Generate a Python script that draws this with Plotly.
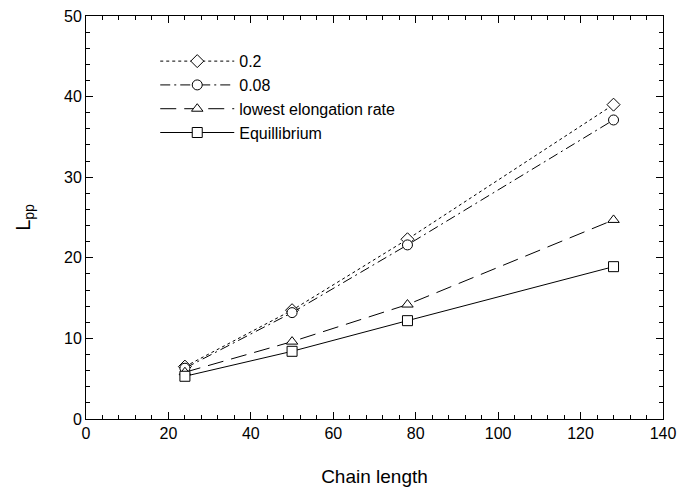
import plotly.graph_objects as go

chain_length = [24, 50, 78, 128]
rate_02 = [6.5, 13.5, 22.3, 39.0]
rate_008 = [6.3, 13.2, 21.6, 37.1]
lowest_rate = [5.8, 9.6, 14.2, 24.7]
equilibrium = [5.3, 8.4, 12.2, 18.9]

series = [
    ("0.2", rate_02, "dot", "diamond"),
    ("0.08", rate_008, "10px,4px,2px,4px", "circle"),
    ("lowest elongation rate", lowest_rate, "16px,8px", "triangle-up"),
    ("Equillibrium", equilibrium, "solid", "square"),
]

fig = go.Figure()
for name, vals, dash, sym in series:
    fig.add_trace(go.Scatter(
        x=chain_length, y=vals, name=name, mode="lines+markers",
        line=dict(color="black", width=1, dash=dash),
        marker=dict(symbol=sym, size=10, color="white",
                    line=dict(color="black", width=1)),
    ))

font_family = "Liberation Sans, Arial, sans-serif"
axis_common = dict(
    showline=True, linecolor="black", linewidth=1, mirror="ticks",
    ticks="inside", ticklen=7, tickcolor="black", showgrid=False,
    zeroline=False, automargin=False,
    tickfont=dict(size=16, color="black", family=font_family),
)
fig.update_xaxes(range=[0, 140], dtick=20, tick0=0,
                 minor=dict(ticks="inside", dtick=4, ticklen=4, tickcolor="black"),
                 title=dict(text="Chain length", font=dict(size=19, color="black", family=font_family), standoff=28),
                 **axis_common)
fig.update_yaxes(range=[0, 50], dtick=10, tick0=0,
                 minor=dict(ticks="inside", dtick=2, ticklen=4, tickcolor="black"),
                 title=dict(text="L<sub>pp</sub>", font=dict(size=20, color="black", family=font_family), standoff=28),
                 **axis_common)
fig.update_layout(
    width=681, height=495,
    margin=dict(l=86, r=18, t=16, b=76),
    paper_bgcolor="white", plot_bgcolor="white",
    font=dict(family=font_family, color="black"),
    legend=dict(x=0.12, y=0.93, xanchor="left", yanchor="top",
                bgcolor="rgba(0,0,0,0)", font=dict(size=16, color="black"),
                itemwidth=74, tracegroupgap=0),
)
fig.write_html("out.html")
